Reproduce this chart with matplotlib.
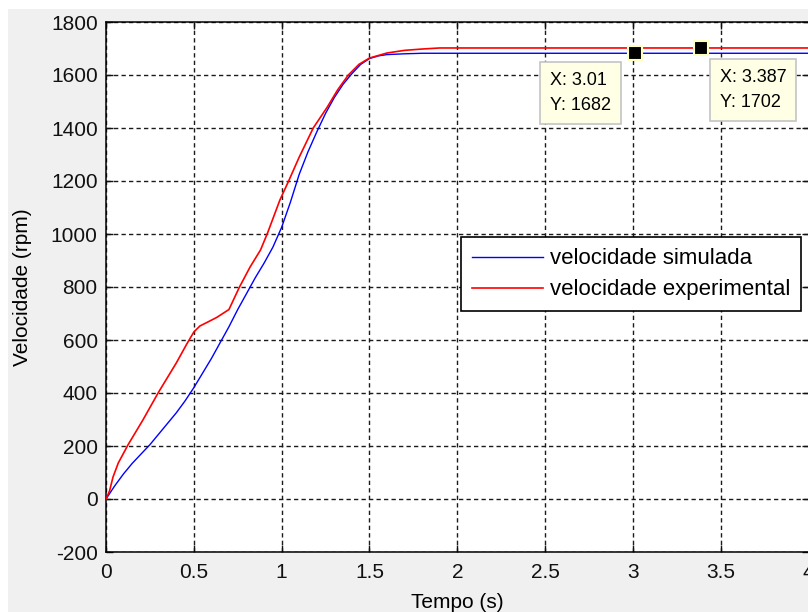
import matplotlib
matplotlib.use("Agg")
import matplotlib.pyplot as plt
from matplotlib.patches import Rectangle

# tempo / velocidade
t_sim = [0, 0.05, 0.1, 0.15, 0.2, 0.25, 0.3, 0.35, 0.4, 0.45, 0.5, 0.55, 0.6, 0.65,
         0.7, 0.75, 0.8, 0.85, 0.9, 0.95, 1.0, 1.05, 1.1, 1.15, 1.2, 1.25, 1.3, 1.35,
         1.4, 1.45, 1.5, 1.55, 1.6, 1.7, 1.8, 4.0]
v_sim = [0, 50, 95, 135, 170, 205, 245, 285, 325, 370, 420, 475, 530, 590,
         650, 715, 775, 835, 890, 950, 1025, 1120, 1225, 1310, 1385, 1455, 1515, 1565,
         1605, 1640, 1662, 1672, 1677, 1680, 1682, 1682]

t_exp = [0, 0.02, 0.04, 0.07, 0.125, 0.21, 0.3, 0.4, 0.46, 0.5, 0.535, 0.58, 0.63,
         0.7, 0.76, 0.82, 0.88, 0.92, 0.99, 1.04, 1.1, 1.18, 1.26, 1.32, 1.38, 1.44,
         1.5, 1.6, 1.7, 1.8, 1.9, 4.0]
v_exp = [0, 30, 83, 136, 204, 298, 404, 513, 585, 630, 653, 668, 685,
         715, 800, 875, 940, 1004, 1128, 1200, 1290, 1400, 1479, 1545, 1600, 1640,
         1664, 1683, 1693, 1698, 1702, 1702]

tips_x = [3.01, 3.387]
tips_y = [1682, 1702]
tips_offset = [(-85, -19), (19, -21)]

plt.rcParams['font.family'] = ['Liberation Sans', 'DejaVu Sans']
plt.rcParams['axes.unicode_minus'] = False

fig = plt.figure(figsize=(8.08, 6.12), dpi=100, facecolor='white')
fig.patches.append(Rectangle((8 / 808, 0), 1, 1 - 9 / 612, transform=fig.transFigure,
                             facecolor='#f0f0f0', edgecolor='none', zorder=-10))

ax = fig.add_axes([106 / 808, 1 - 552 / 612, 702.5 / 808, 530 / 612])
ax.set_facecolor('white')

ax.plot(t_sim, v_sim, color='#0000ff', lw=1.0, label='velocidade simulada', zorder=3)
ax.plot(t_exp, v_exp, color='#ff0000', lw=1.2, label='velocidade experimental', zorder=3)

ax.set_xlim(0, 4)
ax.set_ylim(-200, 1800)
ax.set_xticks([0, 0.5, 1, 1.5, 2, 2.5, 3, 3.5, 4])
ax.set_xticklabels(['0', '0.5', '1', '1.5', '2', '2.5', '3', '3.5', '4'])
ax.set_yticks(range(-200, 1801, 200))

ax.grid(True, color='#1a1a1a', lw=1.0, linestyle=(0, (3.1, 2.3)))
ax.tick_params(direction='in', length=5, width=1, top=True, right=True,
               labelsize=15, colors='#111111')
ax.tick_params(axis='x', pad=8)
ax.tick_params(axis='y', pad=6)
for s in ax.spines.values():
    s.set_linewidth(1.1)

ax.set_xlabel('Tempo (s)', fontsize=15)
ax.set_ylabel('Velocidade (rpm)', fontsize=15)
ax.xaxis.set_label_coords(0.5, -0.077)
ax.yaxis.set_label_coords(-0.105, 0.5)

leg = ax.legend(loc='upper left', bbox_to_anchor=(0.505, 0.594), borderaxespad=0,
                fontsize=16, fancybox=False, framealpha=1, edgecolor='black',
                handlelength=3.2, handletextpad=0.3, borderpad=0.5, labelspacing=0.45)
leg.get_frame().set_linewidth(1.2)

# data tips
ax.plot(tips_x, tips_y, 's', color='black', markersize=10,
        markeredgecolor='#ffffc0', markeredgewidth=1.5, zorder=5, clip_on=False)
for x, y, off in zip(tips_x, tips_y, tips_offset):
    ax.annotate(f'X: {x:g}\nY: {y:g}', xy=(x, y), xytext=off, textcoords='offset pixels',
                ha='left', va='top', fontsize=13, linespacing=1.6, zorder=6,
                bbox=dict(boxstyle='square,pad=0.55', facecolor='#ffffe6',
                          edgecolor='#c4c4c4', lw=1.2))

fig.savefig('out.png', dpi=100)
